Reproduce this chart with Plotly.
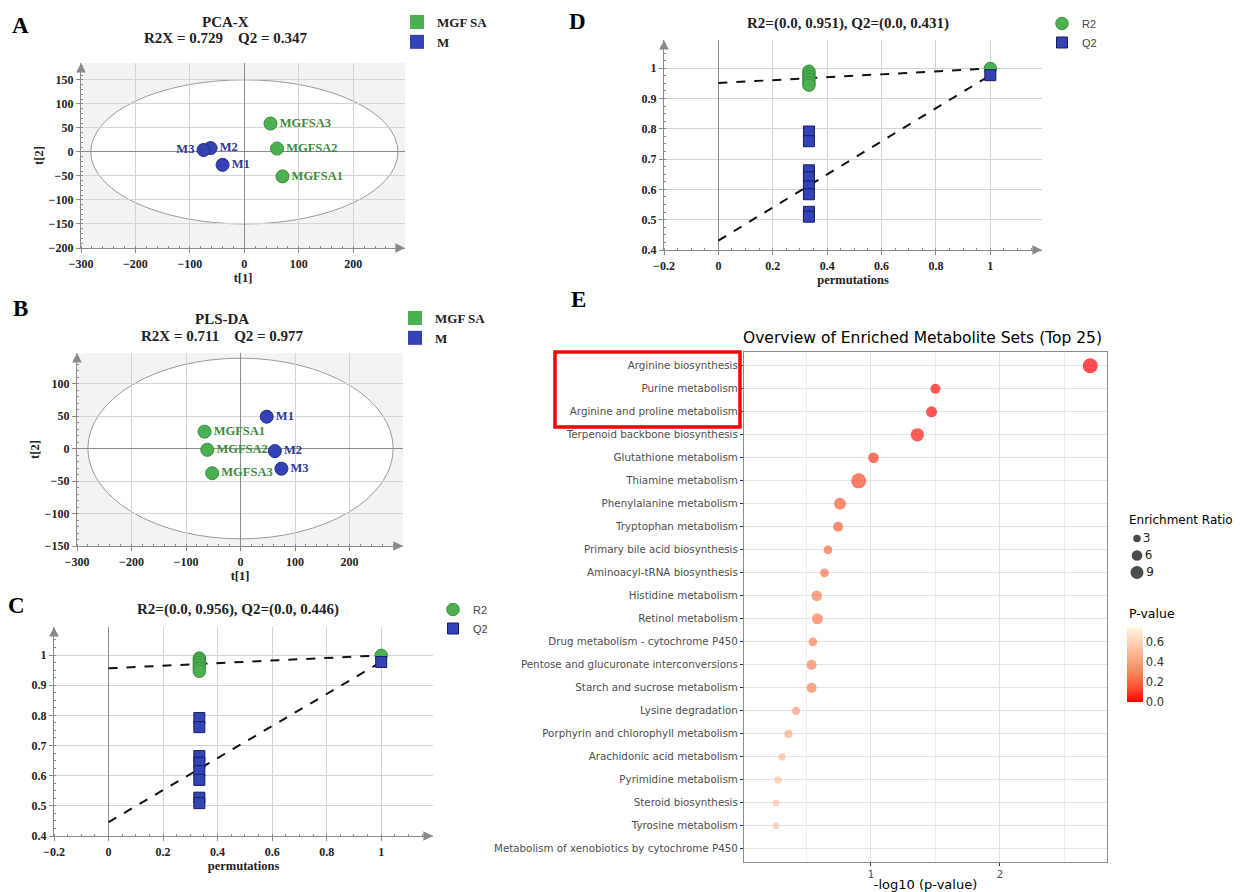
import plotly.graph_objects as go

W, H = 1242, 892

# ---------------- data ----------------
# A: PCA-X score plot
pca_mgf_labels = ["MGFSA1", "MGFSA2", "MGFSA3"]
pca_mgf_t1 = [70, 60, 48]
pca_mgf_t2 = [-51, 7, 59]
pca_m_labels = ["M1", "M2", "M3"]
pca_m_t1 = [-40, -62, -75]
pca_m_t2 = [-27, 8, 4]
pca_ellipse_axes = [282, 150]

# B: PLS-DA score plot
pls_mgf_labels = ["MGFSA1", "MGFSA2", "MGFSA3"]
pls_mgf_t1 = [-66, -61, -52]
pls_mgf_t2 = [26, -2, -38]
pls_m_labels = ["M1", "M2", "M3"]
pls_m_t1 = [48, 63, 75]
pls_m_t2 = [49, -4, -31]
pls_ellipse_axes = [280, 139]

# C: permutation test (first model)
c_r2_corr = [0.333, 0.333, 0.333, 0.333, 0.333, 0.333, 1.0]
c_r2_vals = [0.990, 0.982, 0.974, 0.965, 0.956, 0.946, 0.999]
c_q2_corr = [0.333, 0.333, 0.333, 0.333, 0.333, 0.333, 0.333, 0.333, 1.0]
c_q2_vals = [0.791, 0.761, 0.665, 0.643, 0.615, 0.586, 0.527, 0.509, 0.977]
c_r2_intercept, c_q2_intercept = 0.956, 0.446

# D: permutation test (second model)
d_r2_corr = [0.333, 0.333, 0.333, 0.333, 0.333, 0.333, 1.0]
d_r2_vals = [0.990, 0.981, 0.972, 0.963, 0.953, 0.944, 0.999]
d_q2_corr = [0.333, 0.333, 0.333, 0.333, 0.333, 0.333, 0.333, 0.333, 1.0]
d_q2_vals = [0.791, 0.759, 0.663, 0.640, 0.610, 0.584, 0.526, 0.510, 0.977]
d_r2_intercept, d_q2_intercept = 0.951, 0.431

# E: enrichment overview
e_sets = [
    "Arginine biosynthesis", "Purine metabolism", "Arginine and proline metabolism",
    "Terpenoid backbone biosynthesis", "Glutathione metabolism", "Thiamine metabolism",
    "Phenylalanine metabolism", "Tryptophan metabolism", "Primary bile acid biosynthesis",
    "Aminoacyl-tRNA biosynthesis", "Histidine metabolism", "Retinol metabolism",
    "Drug metabolism - cytochrome P450", "Pentose and glucuronate interconversions",
    "Starch and sucrose metabolism", "Lysine degradation",
    "Porphyrin and chlorophyll metabolism", "Arachidonic acid metabolism",
    "Pyrimidine metabolism", "Steroid biosynthesis", "Tyrosine metabolism",
    "Metabolism of xenobiotics by cytochrome P450",
]
e_neglog10p = [2.70, 1.50, 1.47, 1.36, 1.02, 0.905, 0.76, 0.745, 0.667, 0.64, 0.58,
               0.585, 0.55, 0.54, 0.54, 0.42, 0.36, 0.31, 0.28, 0.265, 0.265, 0.135]
e_ratio = [12.0, 5.3, 6.5, 9.4, 6.0, 12.0, 7.6, 5.3, 4.0, 4.0, 6.0,
           6.4, 4.0, 5.3, 5.3, 3.7, 3.7, 2.9, 2.9, 2.4, 2.4, 0.4]
e_pvalue = [10 ** (-v) for v in e_neglog10p]
size_legend_vals = [3, 6, 9]
pvalue_ticks = [0.0, 0.2, 0.4, 0.6]

# ---------------- helpers ----------------
def dx(a, b):
    return [a / W, b / W]

def dy(top, bottom):
    return [1 - bottom / H, 1 - top / H]

def px_x(p):
    return p / W

def px_y(p):
    return 1 - p / H

SERIF = "Liberation Serif"
SANS = "DejaVu Sans"
GREEN, GREEN_D, GREEN_T = "#4cb050", "#3a8e3d", "#3d8a3d"
BLUE, BLUE_D, BLUE_T = "#3343b5", "#222e88", "#2c3a99"
AXC = "#8a8a8a"

def simca_axis(domain, rng, dtick, minor_dtick, zeroline, title=None, anchor=None):
    d = dict(domain=domain, range=rng, dtick=dtick, tick0=0, automargin=False,
             showgrid=True, gridcolor="#d4d4d4", gridwidth=1,
             zeroline=zeroline, zerolinecolor="#8c8c8c", zerolinewidth=1.3,
             showline=True, linecolor=AXC, linewidth=1.3,
             ticks="outside", ticklen=4, tickcolor=AXC,
             minor=dict(dtick=minor_dtick, tick0=0, ticks="inside", ticklen=2,
                        tickcolor=AXC, showgrid=False),
             tickfont=dict(family=SERIF, size=12, color="#222", weight="bold"),
             fixedrange=True)
    if anchor:
        d["anchor"] = anchor
    if title:
        d["title"] = dict(text=title, font=dict(family=SERIF, size=12.5, color="#222", weight="bold"),
                          standoff=2)
    return d

fig = go.Figure()

LBL = 12.5

# ---------- A ----------
fig.add_trace(go.Scatter(
    x=pca_mgf_t1, y=pca_mgf_t2, text=pca_mgf_labels, mode="markers+text",
    textposition="middle right", xaxis="x", yaxis="y", showlegend=False,
    marker=dict(size=13, color=GREEN, line=dict(color=GREEN_D, width=1)),
    textfont=dict(family=SERIF, size=LBL, color=GREEN_T, weight="bold")))
fig.add_trace(go.Scatter(
    x=pca_m_t1, y=pca_m_t2, text=pca_m_labels, mode="markers+text",
    textposition=["middle right", "middle right", "middle left"], xaxis="x", yaxis="y",
    showlegend=False,
    marker=dict(size=13, color=BLUE, line=dict(color=BLUE_D, width=1)),
    textfont=dict(family=SERIF, size=LBL, color=BLUE_T, weight="bold")))
fig.add_trace(go.Scatter(x=[None], y=[None], name="MGF SA", mode="markers", xaxis="x", yaxis="y",
                         legend="legend",
                         marker=dict(symbol="square", size=14, color=GREEN, line=dict(width=0))))
fig.add_trace(go.Scatter(x=[None], y=[None], name="M", mode="markers", xaxis="x", yaxis="y",
                         legend="legend",
                         marker=dict(symbol="square", size=14, color=BLUE, line=dict(width=0))))

# ---------- B ----------
fig.add_trace(go.Scatter(
    x=pls_mgf_t1, y=pls_mgf_t2, text=pls_mgf_labels, mode="markers+text",
    textposition="middle right", xaxis="x2", yaxis="y2", showlegend=False,
    marker=dict(size=13, color=GREEN, line=dict(color=GREEN_D, width=1)),
    textfont=dict(family=SERIF, size=LBL, color=GREEN_T, weight="bold")))
fig.add_trace(go.Scatter(
    x=pls_m_t1, y=pls_m_t2, text=pls_m_labels, mode="markers+text",
    textposition="middle right", xaxis="x2", yaxis="y2",
    showlegend=False,
    marker=dict(size=13, color=BLUE, line=dict(color=BLUE_D, width=1)),
    textfont=dict(family=SERIF, size=LBL, color=BLUE_T, weight="bold")))
fig.add_trace(go.Scatter(x=[None], y=[None], name="MGF SA", mode="markers", xaxis="x2", yaxis="y2",
                         legend="legend2",
                         marker=dict(symbol="square", size=14, color=GREEN, line=dict(width=0))))
fig.add_trace(go.Scatter(x=[None], y=[None], name="M", mode="markers", xaxis="x2", yaxis="y2",
                         legend="legend2",
                         marker=dict(symbol="square", size=14, color=BLUE, line=dict(width=0))))

# ---------- C & D ----------
def perm_traces(xa, ya, leg, r2x, r2y, q2x, q2y, r2i, q2i):
    r2_end = r2y[-1]
    q2_end = q2y[-1]
    fig.add_trace(go.Scatter(x=[0, 1], y=[r2i, r2_end], mode="lines", xaxis=xa, yaxis=ya,
                             showlegend=False, line=dict(color="#111", width=2, dash="dash")))
    fig.add_trace(go.Scatter(x=[0, 1], y=[q2i, q2_end], mode="lines", xaxis=xa, yaxis=ya,
                             showlegend=False, line=dict(color="#111", width=2, dash="dash")))
    fig.add_trace(go.Scatter(x=r2x, y=r2y, mode="markers", name="R2", xaxis=xa, yaxis=ya,
                             legend=leg,
                             marker=dict(symbol="circle", size=12.5, color=GREEN,
                                         line=dict(color=GREEN_D, width=1))))
    fig.add_trace(go.Scatter(x=q2x, y=q2y, mode="markers", name="Q2", xaxis=xa, yaxis=ya,
                             legend=leg,
                             marker=dict(symbol="square", size=11, color=BLUE,
                                         line=dict(color="#151c5e", width=1))))

perm_traces("x3", "y3", "legend3", c_r2_corr, c_r2_vals, c_q2_corr, c_q2_vals,
            c_r2_intercept, c_q2_intercept)
perm_traces("x4", "y4", "legend4", d_r2_corr, d_r2_vals, d_q2_corr, d_q2_vals,
            d_r2_intercept, d_q2_intercept)

# ---------- E ----------
SIZEREF = 0.1065
fig.add_trace(go.Scatter(
    x=e_neglog10p, y=e_sets, mode="markers", xaxis="x5", yaxis="y5", showlegend=False,
    marker=dict(size=e_ratio, sizemode="area", sizeref=SIZEREF, sizemin=2,
                color=e_pvalue, coloraxis="coloraxis", line=dict(width=0))))
# size legend
fig.add_trace(go.Scatter(
    x=[0, 0, 0], y=size_legend_vals, mode="markers+text", xaxis="x6", yaxis="y6",
    showlegend=False, cliponaxis=False,
    text=[str(v) for v in size_legend_vals], textposition="middle right",
    textfont=dict(family=SANS, size=12, color="#222"),
    marker=dict(size=size_legend_vals, sizemode="area", sizeref=SIZEREF, color="black",
                line=dict(width=0))))

layout = dict(
    width=W, height=H, margin=dict(l=0, r=0, t=0, b=0, autoexpand=False),
    paper_bgcolor="white", plot_bgcolor="white",
    xaxis=simca_axis(dx(81, 405), [-300, 295], 100, 20, True, "t[1]", "y"),
    yaxis=simca_axis(dy(63, 248), [-200, 185], 50, 10, True, "t[2]", "x"),
    xaxis2=simca_axis(dx(77, 403), [-300, 298], 100, 20, True, "t[1]", "y2"),
    yaxis2=simca_axis(dy(353, 546), [-150, 147], 50, 10, True, "t[2]", "x2"),
    xaxis3=simca_axis(dx(54, 433), [-0.2, 1.19], 0.2, 0.05, True, "permutations", "y3"),
    yaxis3=simca_axis(dy(627, 836), [0.4, 1.093], 0.1, 0.025, False, None, "x3"),
    xaxis4=simca_axis(dx(664, 1042), [-0.2, 1.19], 0.2, 0.05, True, "permutations", "y4"),
    yaxis4=simca_axis(dy(40, 250), [0.4, 1.093], 0.1, 0.025, False, None, "x4"),
    xaxis5=dict(domain=dx(744, 1107), range=[0.016, 2.83], anchor="y5", dtick=1, tick0=0,
                automargin=False,
                showgrid=True, gridcolor="#e3e3e3", gridwidth=1, zeroline=False,
                minor=dict(dtick=0.5, tick0=0, showgrid=True, gridcolor="#eeeeee", gridwidth=1),
                showline=True, mirror=True, linecolor="#8c8c8c", linewidth=1.2,
                ticks="outside", ticklen=3, tickcolor="#333",
                tickfont=dict(family=SANS, size=10, color="#4d4d4d"),
                title=dict(text="-log10 (p-value)", font=dict(family=SANS, size=13, color="black"),
                           standoff=0),
                fixedrange=True),
    yaxis5=dict(domain=dy(352, 862), type="category", categoryorder="array",
                categoryarray=e_sets, range=[len(e_sets) - 1 + 0.57, -0.6], anchor="x5",
                automargin=False,
                showgrid=True, gridcolor="#e3e3e3", gridwidth=1, zeroline=False,
                showline=True, mirror=True, linecolor="#8c8c8c", linewidth=1.2,
                ticks="outside", ticklen=3, tickcolor="#333",
                tickfont=dict(family=SANS, size=10.3, color="#4d4d4d"), fixedrange=True),
    xaxis6=dict(domain=dx(1127, 1147), range=[-1, 1], anchor="y6", visible=False,
                automargin=False),
    yaxis6=dict(domain=dy(530, 581), range=[10.5, 1.5], anchor="x6", visible=False,
                automargin=False),
    coloraxis=dict(
        cmin=0, cmax=0.75,
        colorscale=[[0, "#ff0000"], [0.2, "#fa5632"], [0.4, "#f8875c"], [0.6, "#fbae88"],
                    [0.8, "#fdd3b5"], [1, "#fff8e0"]],
        colorbar=dict(x=px_x(1127), xanchor="left", y=px_y(627), yanchor="top",
                      lenmode="pixels", len=75, thicknessmode="pixels", thickness=16,
                      xpad=0, ypad=0, outlinewidth=0, ticks="",
                      tickvals=pvalue_ticks, ticktext=["%.1f" % v for v in pvalue_ticks],
                      tickfont=dict(family=SANS, size=11.5, color="#333"))),
    legend=dict(x=px_x(397), y=px_y(7), xanchor="left", yanchor="top",
                bgcolor="rgba(0,0,0,0)", tracegroupgap=0,
                font=dict(family=SERIF, size=13, color="#222", weight="bold")),
    legend2=dict(x=px_x(395), y=px_y(303), xanchor="left", yanchor="top",
                 bgcolor="rgba(0,0,0,0)", tracegroupgap=0,
                 font=dict(family=SERIF, size=13, color="#222", weight="bold")),
    legend3=dict(x=px_x(433), y=px_y(595), xanchor="left", yanchor="top",
                 bgcolor="rgba(0,0,0,0)", tracegroupgap=0,
                 font=dict(family="Liberation Sans", size=11, color="#444")),
    legend4=dict(x=px_x(1042), y=px_y(9), xanchor="left", yanchor="top",
                 bgcolor="rgba(0,0,0,0)", tracegroupgap=0,
                 font=dict(family="Liberation Sans", size=11, color="#444")),
)
fig.update_layout(**layout)

# background + confidence ellipses for A and B
for xa, ya, ax in [("x", "y", pca_ellipse_axes), ("x2", "y2", pls_ellipse_axes)]:
    fig.add_shape(type="rect", xref=f"{xa} domain", yref=f"{ya} domain", x0=0, x1=1, y0=0, y1=1,
                  fillcolor="#f3f3f3", line=dict(width=0), layer="below")
    fig.add_shape(type="circle", xref=xa, yref=ya, x0=-ax[0], x1=ax[0], y0=-ax[1], y1=ax[1],
                  fillcolor="white", line=dict(color="#9a9a9a", width=1), layer="below")

# axis arrows
for xa, ya, xr, yr in [("x", "y", [-300, 295], [-200, 185]),
                       ("x2", "y2", [-300, 298], [-150, 147]),
                       ("x3", "y3", [-0.2, 1.19], [0.4, 1.093]),
                       ("x4", "y4", [-0.2, 1.19], [0.4, 1.093])]:
    fig.add_annotation(x=xr[0], y=yr[1], xref=xa, yref=ya, text="", showarrow=True,
                       arrowhead=2, arrowsize=1.6, arrowwidth=1.2, arrowcolor=AXC, ax=0, ay=10)
    fig.add_annotation(x=xr[1], y=yr[0], xref=xa, yref=ya, text="", showarrow=True,
                       arrowhead=2, arrowsize=1.6, arrowwidth=1.2, arrowcolor=AXC, ax=-10, ay=0)

# red highlight box
fig.add_shape(type="rect", xref="paper", yref="paper", x0=px_x(555), x1=px_x(740),
              y0=px_y(427), y1=px_y(352), line=dict(color="#ff0000", width=3.5))

def note(text, x, y, size, family=SERIF, bold=True, color="black", xanchor="center"):
    fig.add_annotation(x=px_x(x), y=px_y(y), xref="paper", yref="paper", text=text,
                       showarrow=False, xanchor=xanchor, yanchor="middle",
                       font=dict(family=family, size=size, color=color,
                                 weight="bold" if bold else "normal"))

# panel letters
note("A", 20, 26, 23)
note("B", 20, 309, 23)
note("C", 16, 605, 23)
note("D", 577, 21, 23)
note("E", 578, 299, 23)

# panel titles
note("PCA-X", 225, 22, 15, color="#222")
note("R2X = 0.729&nbsp;&nbsp;&nbsp;&nbsp;Q2 = 0.347", 225, 38, 15, color="#222")
note("PLS-DA", 222, 319, 15, color="#222")
note("R2X = 0.711&nbsp;&nbsp;&nbsp;&nbsp;Q2 = 0.977", 222, 336, 15, color="#222")
note("R2=(0.0, 0.956), Q2=(0.0, 0.446)", 238, 609, 15, color="#222")
note("R2=(0.0, 0.951), Q2=(0.0, 0.431)", 848, 23, 15, color="#222")
note("Overview of Enriched Metabolite Sets (Top 25)", 922, 338, 15.5, family=SANS, bold=False)
note("Enrichment Ratio", 1127, 520, 12, family=SANS, bold=False, xanchor="left")
note("P-value", 1127, 613, 12.5, family=SANS, bold=False, xanchor="left")

fig.write_html("out.html", config={"displayModeBar": False},
               post_script="document.body.style.margin='0';document.body.style.overflow='hidden';")
